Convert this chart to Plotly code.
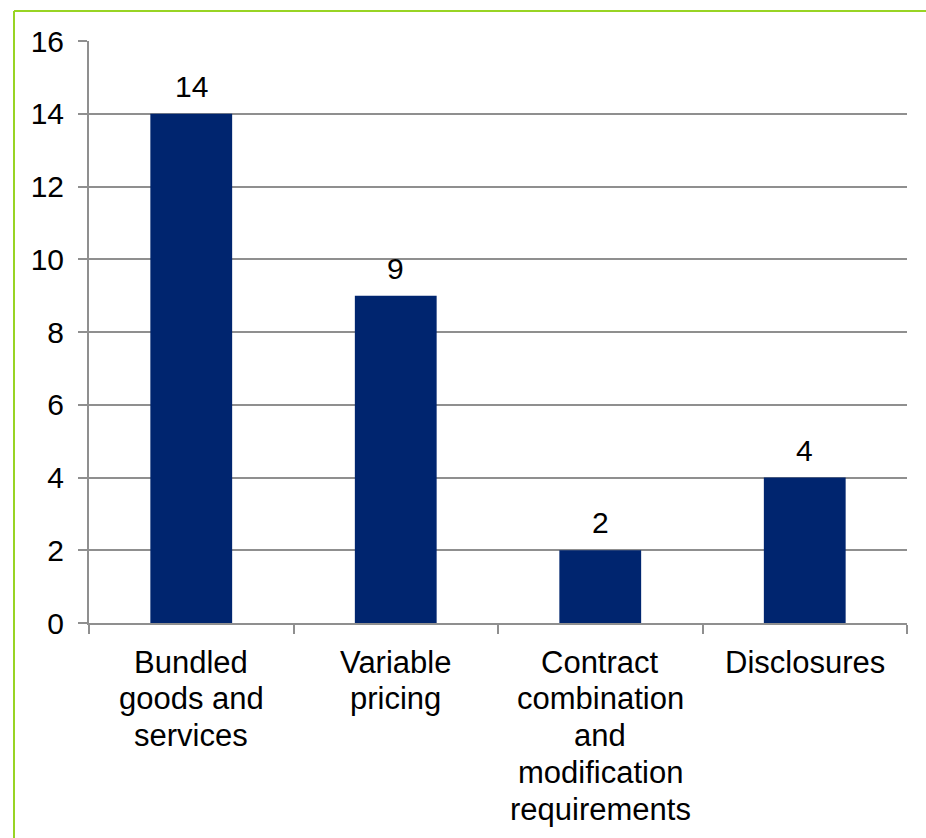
import plotly.graph_objects as go

# Issues raised, by topic
categories = [
    "Bundled<br>goods and<br>services",
    "Variable<br>pricing",
    "Contract<br>combination<br>and<br>modification<br>requirements",
    "Disclosures",
]
counts = [14, 9, 2, 4]
y_ticks = [0, 2, 4, 6, 8, 10, 12, 14, 16]

W, H = 926, 838
L, R, T, B = 89, 19, 41, 215
plot_w = W - L - R
plot_h = H - T - B

FONT = "Liberation Sans, Arial, sans-serif"
GRID = "#8f8f8f"
BAR = "#00256F"
BORDER = "#98D424"
FS = 30          # axis / value label size
CAT_FS = 31      # category label size
LINE_GAP = 36.8  # tighter line spacing for the category labels

fig = go.Figure(
    go.Bar(
        x=categories,
        y=counts,
        marker=dict(color=BAR, line=dict(width=0)),
        width=0.4,
        hoverinfo="skip",
    )
)

# value labels above each bar
for c, v in zip(categories, counts):
    fig.add_annotation(
        x=c, y=v, text=str(v), showarrow=False,
        xref="x", yref="y", yanchor="bottom", yshift=9,
        font=dict(family=FONT, size=FS, color="black"),
    )

# category labels, one line at a time for tighter leading
for c in categories:
    for i, line in enumerate(c.split("<br>")):
        fig.add_annotation(
            x=c, y=0, text=line, showarrow=False,
            xref="x", yref="paper", yanchor="middle",
            yshift=-(39 + i * LINE_GAP),
            font=dict(family=FONT, size=CAT_FS, color="black"),
        )

# green frame on the left and top edges
fx = (14 - L) / plot_w
fy = 1 + (T - 11) / plot_h
fig.add_shape(type="line", xref="paper", yref="paper",
              x0=fx, x1=fx, y0=fy, y1=-1, line=dict(color=BORDER, width=2))
fig.add_shape(type="line", xref="paper", yref="paper",
              x0=fx, x1=2, y0=fy, y1=fy, line=dict(color=BORDER, width=2))

fig.update_layout(
    width=W, height=H,
    margin=dict(l=L, r=R, t=T, b=B, pad=0),
    paper_bgcolor="white", plot_bgcolor="white",
    font=dict(family=FONT, size=FS, color="black"),
    showlegend=False,
    bargap=0.6,
)
fig.update_yaxes(
    range=[0, 16], tickvals=y_ticks, ticktext=[str(t) for t in y_ticks],
    showgrid=True, gridcolor=GRID, gridwidth=2,
    showline=True, linecolor=GRID, linewidth=2,
    ticks="outside", ticklen=9, tickwidth=2, tickcolor=GRID,
    ticklabelstandoff=8, zeroline=False,
    tickfont=dict(family=FONT, size=FS, color="black"),
)
fig.update_xaxes(
    showgrid=False, showline=True, linecolor=GRID, linewidth=2,
    ticks="outside", ticklen=9, tickwidth=2, tickcolor=GRID,
    tickson="boundaries", showticklabels=False,
)

fig.write_html("out.html")
